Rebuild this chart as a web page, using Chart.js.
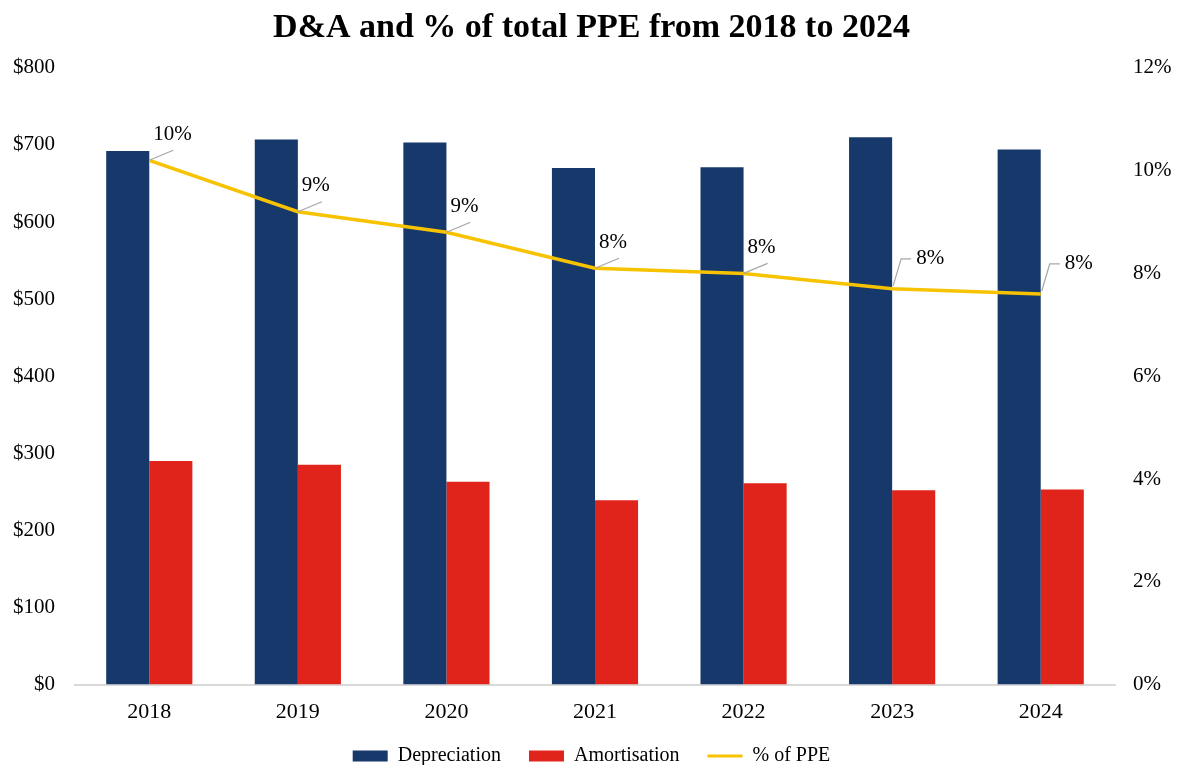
<!DOCTYPE html>
<html>
<head>
<meta charset="utf-8">
<title>D&amp;A and % of total PPE</title>
<script src="https://cdn.jsdelivr.net/npm/chart.js@4"></script>
<style>
  html, body { margin: 0; padding: 0; background: #fff; }
  #wrap { width: 1183px; height: 765px; }
</style>
</head>
<body>
<div id="wrap"><canvas id="daChart"></canvas></div>
<script>
const years = ['2018', '2019', '2020', '2021', '2022', '2023', '2024'];
const depreciation = [692, 707, 703, 670, 671, 710, 694];
const amortisation = [290, 285, 263, 239, 261, 252, 253];
const pctOfPpe = [10.2, 9.2, 8.8, 8.1, 8.0, 7.7, 7.6];
const leftTicks = [0, 100, 200, 300, 400, 500, 600, 700, 800];
const rightTicks = [0, 2, 4, 6, 8, 10, 12];
// how each % label is connected to its point: slanted leader or elbow
const labelLeader = ['slant', 'slant', 'slant', 'slant', 'slant', 'elbow', 'elbow'];
const legendOrder = ['Depreciation', 'Amortisation', '% of PPE'];

const serif = '"Liberation Serif", "Times New Roman", serif';

// labels for the % line with thin grey leader lines
const pctLabels = {
    id: 'pctLabels',
    afterDatasetsDraw(chart) {
        const idx = chart.data.datasets.findIndex(d => d.type === 'line');
        const meta = chart.getDatasetMeta(idx);
        const ctx = chart.ctx;
        ctx.save();
        ctx.font = '21px ' + serif;
        ctx.fillStyle = '#000';
        ctx.strokeStyle = '#a6a6a6';
        ctx.lineWidth = 1.2;
        ctx.textBaseline = 'middle';
        ctx.textAlign = 'left';
        meta.data.forEach((pt, i) => {
            const text = Math.round(pctOfPpe[i]) + '%';
            ctx.beginPath();
            if (labelLeader[i] === 'elbow') {
                ctx.moveTo(pt.x + 1, pt.y - 3);
                ctx.lineTo(pt.x + 9, pt.y - 30);
                ctx.lineTo(pt.x + 19, pt.y - 30);
                ctx.stroke();
                ctx.fillText(text, pt.x + 24, pt.y - 30);
            } else {
                ctx.moveTo(pt.x, pt.y);
                ctx.lineTo(pt.x + 24, pt.y - 10);
                ctx.stroke();
                ctx.fillText(text, pt.x + 4, pt.y - 26);
            }
        });
        ctx.restore();
    }
};

// wide gaps between legend items but a shallow legend box
const legendTrim = {
    id: 'legendTrim',
    beforeUpdate(chart) {
        const legend = chart.legend;
        if (!legend || legend._trimmed) return;
        const fit = legend.fit;
        const draw = legend.draw;
        legend.fit = function () {
            fit.call(this);
            this.height -= 20;
        };
        legend.draw = function () {
            const top = this.top;
            this.top = top - 9;
            draw.call(this);
            this.top = top;
        };
        legend._trimmed = true;
    }
};

const ctx = document.getElementById('daChart').getContext('2d');
new Chart(ctx, {
    data: {
        labels: years,
        datasets: [
            {
                type: 'line',
                label: '% of PPE',
                data: pctOfPpe,
                yAxisID: 'yPct',
                borderColor: '#f7c300',
                borderWidth: 3.5,
                pointRadius: 0,
                tension: 0,
                order: 0
            },
            {
                type: 'bar',
                label: 'Depreciation',
                data: depreciation,
                yAxisID: 'y',
                backgroundColor: '#17386a',
                categoryPercentage: 0.58,
                barPercentage: 1,
                order: 1
            },
            {
                type: 'bar',
                label: 'Amortisation',
                data: amortisation,
                yAxisID: 'y',
                backgroundColor: '#e0241b',
                categoryPercentage: 0.58,
                barPercentage: 1,
                order: 1
            }
        ]
    },
    options: {
        responsive: true,
        maintainAspectRatio: false,
        animation: false,
        layout: { padding: { left: 0, right: 0, top: 6, bottom: 0 } },
        plugins: {
            title: {
                display: true,
                text: 'D&A and % of total PPE from 2018 to 2024',
                color: '#000',
                font: { family: serif, size: 34, weight: 'bold' },
                padding: { top: 2, bottom: 19 }
            },
            legend: {
                position: 'bottom',
                labels: {
                    color: '#000',
                    font: { family: serif, size: 20 },
                    usePointStyle: true,
                    pointStyleWidth: 35,
                    boxHeight: 11,
                    padding: 28,
                    sort: (a, b) => legendOrder.indexOf(a.text) - legendOrder.indexOf(b.text),
                    generateLabels(chart) {
                        const items = Chart.defaults.plugins.legend.labels.generateLabels(chart);
                        items.forEach(item => {
                            const ds = chart.data.datasets[item.datasetIndex];
                            if (ds.type === 'line') {
                                item.pointStyle = 'line';
                                item.strokeStyle = ds.borderColor;
                                item.lineWidth = 3;
                            } else {
                                item.pointStyle = 'rect';
                                item.lineWidth = 0;
                            }
                        });
                        return items;
                    }
                }
            },
            tooltip: { enabled: false }
        },
        scales: {
            x: {
                afterFit: axis => { axis.height -= 4; },
                grid: { display: false },
                border: { display: true, color: '#d9d9d9', width: 2 },
                ticks: { color: '#000', font: { family: serif, size: 22 }, padding: 6 }
            },
            y: {
                position: 'left',
                min: 0,
                max: 800,
                afterBuildTicks: axis => { axis.ticks = leftTicks.map(v => ({ value: v })); },
                afterFit: axis => { axis.width = 75; },
                grid: { display: false },
                border: { display: false },
                ticks: {
                    color: '#000',
                    font: { family: serif, size: 21 },
                    padding: 12,
                    callback: value => '$' + value
                }
            },
            yPct: {
                position: 'right',
                min: 0,
                max: 12,
                afterBuildTicks: axis => { axis.ticks = rightTicks.map(v => ({ value: v })); },
                afterFit: axis => { axis.width = 68; },
                grid: { display: false },
                border: { display: false },
                ticks: {
                    color: '#000',
                    font: { family: serif, size: 21 },
                    padding: 10,
                    callback: value => value + '%'
                }
            }
        }
    },
    plugins: [pctLabels, legendTrim]
});
</script>
</body>
</html>
